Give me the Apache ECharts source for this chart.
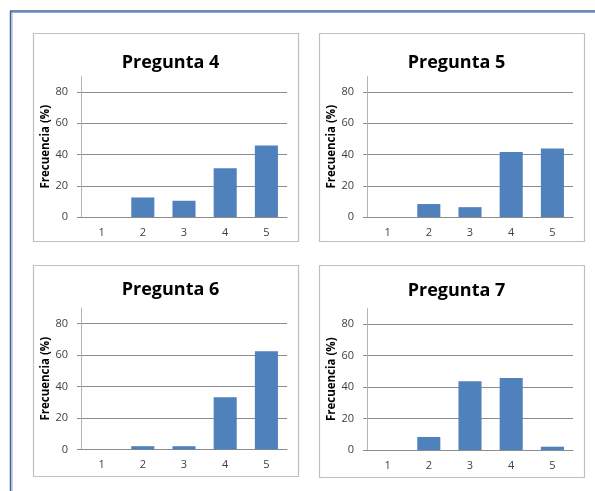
<!DOCTYPE html>
<html>
<head>
<meta charset="utf-8">
<script src="https://cdn.jsdelivr.net/npm/echarts@6/dist/echarts.min.js"></script>
<style>
  html, body { margin: 0; padding: 0; background: #ffffff; }
  #chart { width: 595px; height: 491px; }
</style>
</head>
<body>
<div id="chart"></div>
<script>
// Answer options on the Likert scale (x axis)
const categories = ['1', '2', '3', '4', '5'];

// Panel titles
const titles = ['Pregunta 4', 'Pregunta 5', 'Pregunta 6', 'Pregunta 7'];

// Response frequency (%) per answer option, one array per question
const pregunta4 = [0, 12.5, 10.4, 31.3, 45.8];
const pregunta5 = [0, 8.3, 6.3, 41.7, 43.8];
const pregunta6 = [0, 2.1, 2.1, 33.3, 62.5];
const pregunta7 = [0, 8.3, 43.8, 45.8, 2.1];

// Y axis tick values
const yTicks = [0, 20, 40, 60, 80];
const yMax = 90;

const seriesData = [pregunta4, pregunta5, pregunta6, pregunta7];

// Panel layout: frame box and plot area for each chart
const panels = [
  { box: [33, 33, 265, 208], grid: { left: 81, top: 76.5, width: 206, height: 140.5 }, titleY: 49 },
  { box: [319, 33, 265, 208], grid: { left: 367, top: 76.5, width: 206, height: 140.5 }, titleY: 49 },
  { box: [33, 265, 265, 211], grid: { left: 81, top: 308, width: 206, height: 141.5 }, titleY: 276 },
  { box: [319, 265, 265, 212], grid: { left: 367, top: 308.5, width: 206, height: 141.5 }, titleY: 277 }
];

const FONT = "'Open Sans', 'Liberation Sans', sans-serif";

const option = {
  animation: false,
  backgroundColor: '#ffffff',
  title: panels.map((p, i) => ({
    text: titles[i],
    left: p.box[0] + p.box[2] / 2,
    top: p.titleY,
    textAlign: 'center',
    textStyle: { fontFamily: FONT, fontWeight: 'bold', fontSize: 18, color: '#000000' }
  })),
  grid: panels.map(p => Object.assign({ containLabel: false }, p.grid)),
  xAxis: panels.map((p, i) => ({
    type: 'category',
    gridIndex: i,
    data: categories,
    axisLine: { show: true, lineStyle: { color: '#8c8c8c', width: 1 } },
    axisTick: { show: false },
    axisLabel: { margin: 10, fontFamily: FONT, fontSize: 11, color: '#404040' },
    splitLine: { show: false }
  })),
  yAxis: panels.map((p, i) => ({
    type: 'value',
    gridIndex: i,
    min: 0,
    max: yMax,
    interval: 20,
    name: 'Frecuencia (%)',
    nameLocation: 'middle',
    nameGap: 29,
    nameTextStyle: { fontFamily: FONT, fontWeight: 'bold', fontSize: 11.5, color: '#000000' },
    axisLine: { show: true, lineStyle: { color: '#b4b4b4', width: 1 } },
    axisTick: { show: true, inside: false, length: 4, customValues: yTicks, lineStyle: { color: '#8c8c8c' } },
    axisLabel: { customValues: yTicks, margin: 13, fontFamily: FONT, fontSize: 11, color: '#404040' },
    splitLine: { show: true, lineStyle: { color: '#8c8c8c', width: 1 } }
  })),
  series: seriesData.map((d, i) => ({
    type: 'bar',
    xAxisIndex: i,
    yAxisIndex: i,
    data: d,
    barWidth: '56%',
    itemStyle: { color: '#4f81bd' }
  })),
  graphic: [
    // outer page frame (double blue rule on top and left)
    { type: 'line', shape: { x1: 10, y1: 11, x2: 595, y2: 11 }, style: { stroke: '#41639b', lineWidth: 1.5 } },
    { type: 'line', shape: { x1: 11, y1: 12.5, x2: 595, y2: 12.5 }, style: { stroke: '#8fa9d0', lineWidth: 1 } },
    { type: 'line', shape: { x1: 10.5, y1: 11, x2: 10.5, y2: 491 }, style: { stroke: '#41639b', lineWidth: 1.5 } },
    { type: 'line', shape: { x1: 12, y1: 12, x2: 12, y2: 491 }, style: { stroke: '#8fa9d0', lineWidth: 1 } }
  ].concat(panels.map(p => ({
    type: 'rect',
    shape: { x: p.box[0] + 0.5, y: p.box[1] + 0.5, width: p.box[2], height: p.box[3] },
    style: { fill: 'none', stroke: '#bfbfbf', lineWidth: 1.2 },
    z: -1
  })))
};

const chart = echarts.init(document.getElementById('chart'), null, { renderer: 'canvas' });
chart.setOption(option);
</script>
</body>
</html>
